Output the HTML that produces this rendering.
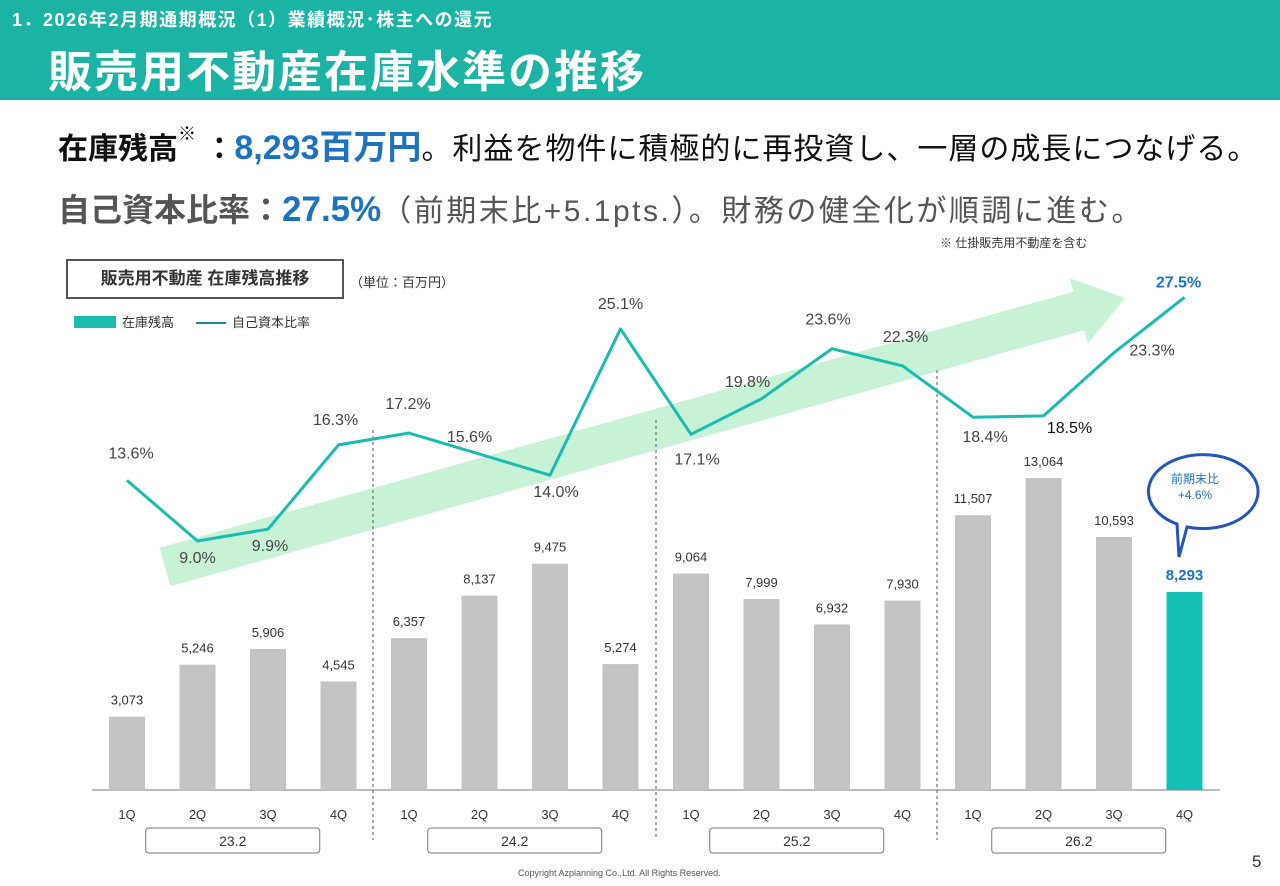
<!DOCTYPE html>
<html><head><meta charset="utf-8"><style>
body{margin:0;width:1280px;height:886px;background:#fff;font-family:"Liberation Sans","Noto Sans CJK JP",sans-serif;overflow:hidden;position:relative}
.hdr{position:absolute;left:0;top:0;width:1280px;height:100px;background:#1bb3a4}
.abs{position:absolute;white-space:nowrap}
</style></head><body>
<div class="hdr"></div>
<div class="abs" style="left:12px;top:6px;color:#fff;font-weight:bold;font-size:18px;letter-spacing:1.5px">1．2026年2月期通期概況（1）業績概況･株主への還元</div>
<div class="abs" style="left:48px;top:36px;color:#fff;font-weight:bold;font-size:44px;letter-spacing:2px">販売用不動産在庫水準の推移</div>
<div class="abs" style="left:58px;top:120px;font-size:30px;font-weight:bold;color:#111">在庫残高<span style="font-size:18px;vertical-align:top">※</span> ：<span style="color:#1e73be;font-size:34px">8,293百万円</span><span style="font-weight:normal;font-size:30px;letter-spacing:1px">。利益を物件に積極的に再投資し、一層の成長につなげる。</span></div>
<div class="abs" style="left:58px;top:185px;font-size:32px;font-weight:bold;color:#555">自己資本比率：<span style="color:#1e73be;font-size:35px">27.5%</span><span style="font-weight:normal;font-size:30px;letter-spacing:2.5px">（前期末比+5.1pts.）。財務の健全化が順調に進む。</span></div>
<div class="abs" style="left:940px;top:234px;font-size:12px;color:#333">※ 仕掛販売用不動産を含む</div>
<div class="abs" style="left:66px;top:259px;width:274px;height:36px;border:2px solid #555;font-weight:bold;font-size:17px;color:#333;line-height:36px;text-align:center">販売用不動産 在庫残高推移</div>
<div class="abs" style="left:350px;top:272px;font-size:13px;color:#333">（単位：百万円）</div>
<div class="abs" style="left:74px;top:316px;width:42px;height:12px;background:#1bbcb0"></div>
<div class="abs" style="left:122px;top:312px;font-size:13px;color:#333">在庫残高</div>
<div class="abs" style="left:196px;top:322px;width:30px;height:2px;background:#1a8c88"></div>
<div class="abs" style="left:232px;top:312px;font-size:13px;color:#333">自己資本比率</div>
<svg id="c" width="1280" height="886" style="position:absolute;left:0;top:0"></svg>
<div class="abs" style="left:518px;top:868px;font-size:9px;color:#555">Copyright Azplanning Co.,Ltd. All Rights Reserved.</div>
<div class="abs" style="left:1252px;top:852px;font-size:17px;color:#333">5</div>
<script>
const quarters=["1Q","2Q","3Q","4Q","1Q","2Q","3Q","4Q","1Q","2Q","3Q","4Q","1Q","2Q","3Q","4Q"];
const years=["23.2","24.2","25.2","26.2"];
const inventory=[3073,5246,5906,4545,6357,8137,9475,5274,9064,7999,6932,7930,11507,13064,10593,8293];
const equityRatio=[13.6,9.0,9.9,16.3,17.2,15.6,14.0,25.1,17.1,19.8,23.6,22.3,18.4,18.5,23.3,27.5];
const NS="http://www.w3.org/2000/svg",svg=document.getElementById('c');
function mk(t,a,txt){const e=document.createElementNS(NS,t);for(const k in a)e.setAttribute(k,a[k]);if(txt!==undefined)e.textContent=txt;svg.appendChild(e);return e;}
const X=i=>127+i*70.5, base=790, Yb=v=>base-v*0.02388, Yl=v=>541-(v-9)*13.17;
(function(){const sx=165,sy=567,ex=1125,ey=298,dx=ex-sx,dy=ey-sy,L=Math.hypot(dx,dy),ux=dx/L,uy=dy/L,nx=-uy,ny=ux,h=20,H=34,hl=48;
const bx=ex-ux*hl,by=ey-uy*hl;const p=[[sx+nx*h,sy+ny*h],[bx+nx*h,by+ny*h],[bx+nx*H,by+ny*H],[ex,ey],[bx-nx*H,by-ny*H],[bx-nx*h,by-ny*h],[sx-nx*h,sy-ny*h]];
const a=mk('polygon',{points:p.map(q=>q.join(',')).join(' '),fill:'#c8f2d6'});})();
[373,656,937].forEach((x,i)=>{const l=mk('line',{x1:x,x2:x,y1:[430,420,370][i],y2:840,stroke:'#555','stroke-dasharray':'3,3','stroke-width':1});});
const ax=mk('line',{x1:92,x2:1220,y1:base,y2:base,stroke:'#777','stroke-width':1});
inventory.forEach((v,i)=>{const last=i===inventory.length-1;
const r=mk('rect',{x:X(i)-18,y:Yb(v),width:36,height:base-Yb(v),fill:last?'#14c0b4':'#c3c3c3'});
const t=mk('text',{x:X(i),y:Yb(v)-12,'text-anchor':'middle','font-size':last?15:13,'font-weight':last?'bold':'normal',fill:last?'#1e73be':'#333'},v.toLocaleString('en-US'));
const q=mk('text',{x:X(i),y:819,'text-anchor':'middle','font-size':13,fill:'#333'},quarters[i]);});
years.forEach((y,k)=>{const cx=(X(k*4+1)+X(k*4+2))/2;const b=mk('rect',{x:cx-87,y:828,width:174,height:25,rx:3,fill:'#fff',stroke:'#777'});
const t=mk('text',{x:cx,y:846,'text-anchor':'middle','font-size':14,fill:'#333'},y);});
const pl=mk('polyline',{points:equityRatio.map((v,i)=>X(i)+','+Yl(v)).join(' '),fill:'none',stroke:'#1bbcb0','stroke-width':3,'stroke-linejoin':'round'});
const off=[[4,-22],[0,22],[2,22],[-3,-20],[-1,-24],[-10,-12],[6,22],[0,-20],[6,30],[-14,-12],[-4,-24],[3,-24],[12,25],[26,17],[38,3],[-6,-10]];
equityRatio.forEach((v,i)=>{const last=i===equityRatio.length-1;const t=mk('text',{x:X(i)+off[i][0],y:Yl(v)+off[i][1],'text-anchor':'middle','font-size':16,'font-weight':last?'bold':'normal',fill:last?'#1e73be':(i===13?'#111':'#444')},v.toFixed(1)+'%');});
const bb=mk('path',{d:'M1195,455 a55,37 0 1,1 -8,72 l-8,30 l-2,-33 a55,37 0 0,1 18,-69z',fill:'#fff',stroke:'#2257b8','stroke-width':3});
const b1=mk('text',{x:1195,y:483,'text-anchor':'middle','font-size':12,fill:'#1e73be'},'前期末比');
const b2=mk('text',{x:1195,y:499,'text-anchor':'middle','font-size':12,fill:'#1e73be'},'+4.6%');
</script>
</body></html>
